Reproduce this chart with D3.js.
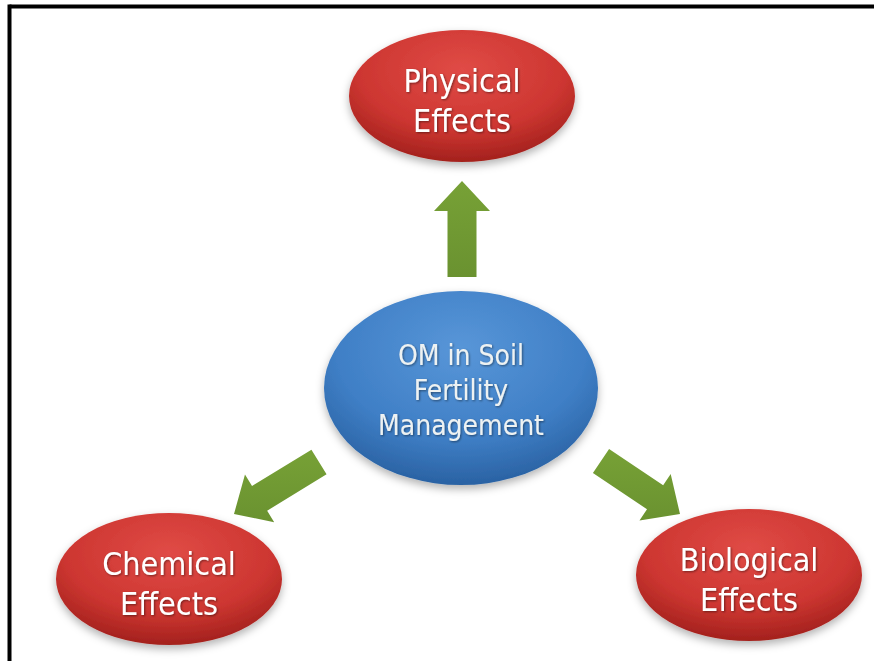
<!DOCTYPE html>
<html>
<head>
<meta charset="utf-8">
<style>
body{margin:0;background:#fff;}
svg{display:block;}
</style>
</head>
<body>
<svg id="svg"></svg>
<script src="https://cdnjs.cloudflare.com/ajax/libs/d3/7.8.5/d3.min.js"></script>
<script>
// labels
var centerLabel = ["OM in Soil", "Fertility", "Management"]
var effectNames = ["Physical", "Chemical", "Biological"]
var effectLabels = effectNames.map(function(n){ return [n, "Effects"] })

var width = 874, height = 661

// layout of the diagram
var hub = {x: 461, y: 388, rx: 137, ry: 97}
var spots = [
  {x: 462, y: 96, tail: [462, 277], tip: [462, 181]},
  {x: 169, y: 579, tail: [319, 462], tip: [234, 514]},
  {x: 749, y: 575, tail: [601, 461], tip: [680, 514]}
]
var nodeR = {rx: 113, ry: 66}

var svg = d3.select('#svg')
  .attr('width', width)
  .attr('height', height)

var defs = svg.append('defs')

var red = defs.append('radialGradient').attr('id', 'red')
  .attr('cx', '50%').attr('cy', '30%').attr('r', '70%')
red.append('stop').attr('offset', '0%').attr('stop-color', '#e04b46')
red.append('stop').attr('offset', '65%').attr('stop-color', '#cd3631')
red.append('stop').attr('offset', '100%').attr('stop-color', '#a3211d')

var blue = defs.append('radialGradient').attr('id', 'blue')
  .attr('cx', '50%').attr('cy', '30%').attr('r', '70%')
blue.append('stop').attr('offset', '0%').attr('stop-color', '#5896d8')
blue.append('stop').attr('offset', '65%').attr('stop-color', '#3f7fc6')
blue.append('stop').attr('offset', '100%').attr('stop-color', '#2a62a3')

var green = defs.append('linearGradient').attr('id', 'green')
  .attr('x1', 0).attr('y1', 0).attr('x2', 0).attr('y2', 1)
green.append('stop').attr('offset', '0%').attr('stop-color', '#77a136')
green.append('stop').attr('offset', '100%').attr('stop-color', '#6a9230')

var shadow = defs.append('filter').attr('id', 'shadow')
  .attr('x', '-20%').attr('y', '-20%').attr('width', '140%').attr('height', '150%')
shadow.append('feDropShadow').attr('dx', 0).attr('dy', 4).attr('stdDeviation', 4)
  .attr('flood-color', '#000').attr('flood-opacity', 0.3)

var txtShadow = defs.append('filter').attr('id', 'tshadow')
txtShadow.append('feDropShadow').attr('dx', 1).attr('dy', 1).attr('stdDeviation', 0.8)
  .attr('flood-color', '#000').attr('flood-opacity', 0.45)

// frame (only top + left visible)
svg.append('line').attr('x1', 9.5).attr('y1', 6.5).attr('x2', width).attr('y2', 6.5)
  .attr('stroke', '#000').attr('stroke-width', 4)
svg.append('line').attr('x1', 9.5).attr('y1', 4.5).attr('x2', 9.5).attr('y2', height)
  .attr('stroke', '#000').attr('stroke-width', 4)

// arrows
var shaftW = 29, headW = 56, headL = 30
function arrowPath(d){
  var dx = d.tip[0] - d.tail[0], dy = d.tip[1] - d.tail[1]
  var len = Math.sqrt(dx*dx + dy*dy)
  var ux = dx/len, uy = dy/len, px = -uy, py = ux
  var bx = d.tip[0] - ux*headL, by = d.tip[1] - uy*headL
  var pts = [
    [d.tail[0] + px*shaftW/2, d.tail[1] + py*shaftW/2],
    [bx + px*shaftW/2, by + py*shaftW/2],
    [bx + px*headW/2, by + py*headW/2],
    d.tip,
    [bx - px*headW/2, by - py*headW/2],
    [bx - px*shaftW/2, by - py*shaftW/2],
    [d.tail[0] - px*shaftW/2, d.tail[1] - py*shaftW/2]
  ]
  return d3.line()(pts) + 'Z'
}
svg.append('g').selectAll('path')
  .data(spots)
  .enter().append('path')
  .attr('d', arrowPath)
  .attr('fill', 'url(#green)')

// outer effect nodes
var node = svg.append('g').selectAll('g')
  .data(spots)
  .enter().append('g')
  .attr('transform', function(d){ return 'translate(' + d.x + ',' + d.y + ')' })
node.append('ellipse')
  .attr('rx', nodeR.rx).attr('ry', nodeR.ry)
  .attr('fill', 'url(#red)')
  .attr('filter', 'url(#shadow)')
node.append('text')
  .attr('text-anchor', 'middle')
  .attr('font-family', "'DejaVu Sans Condensed', 'DejaVu Sans', sans-serif")
  .attr('font-size', 32)
  .attr('fill', '#fff')
  .attr('filter', 'url(#tshadow)')
  .selectAll('tspan')
  .data(function(d, i){ return effectLabels[i] })
  .enter().append('tspan')
  .attr('x', 0)
  .attr('y', function(d, i){ return -4 + i*40 })
  .text(function(d){ return d })

// hub
var h = svg.append('g').attr('transform', 'translate(' + hub.x + ',' + hub.y + ')')
h.append('ellipse')
  .attr('rx', hub.rx).attr('ry', hub.ry)
  .attr('fill', 'url(#blue)')
  .attr('filter', 'url(#shadow)')
h.append('text')
  .attr('text-anchor', 'middle')
  .attr('font-family', "'DejaVu Sans Condensed', 'DejaVu Sans', sans-serif")
  .attr('font-size', 28)
  .attr('fill', '#eef2f2')
  .attr('filter', 'url(#tshadow)')
  .selectAll('tspan')
  .data(centerLabel)
  .enter().append('tspan')
  .attr('x', 0)
  .attr('y', function(d, i){ return -23 + i*35 })
  .text(function(d){ return d })
</script>
</body>
</html>
